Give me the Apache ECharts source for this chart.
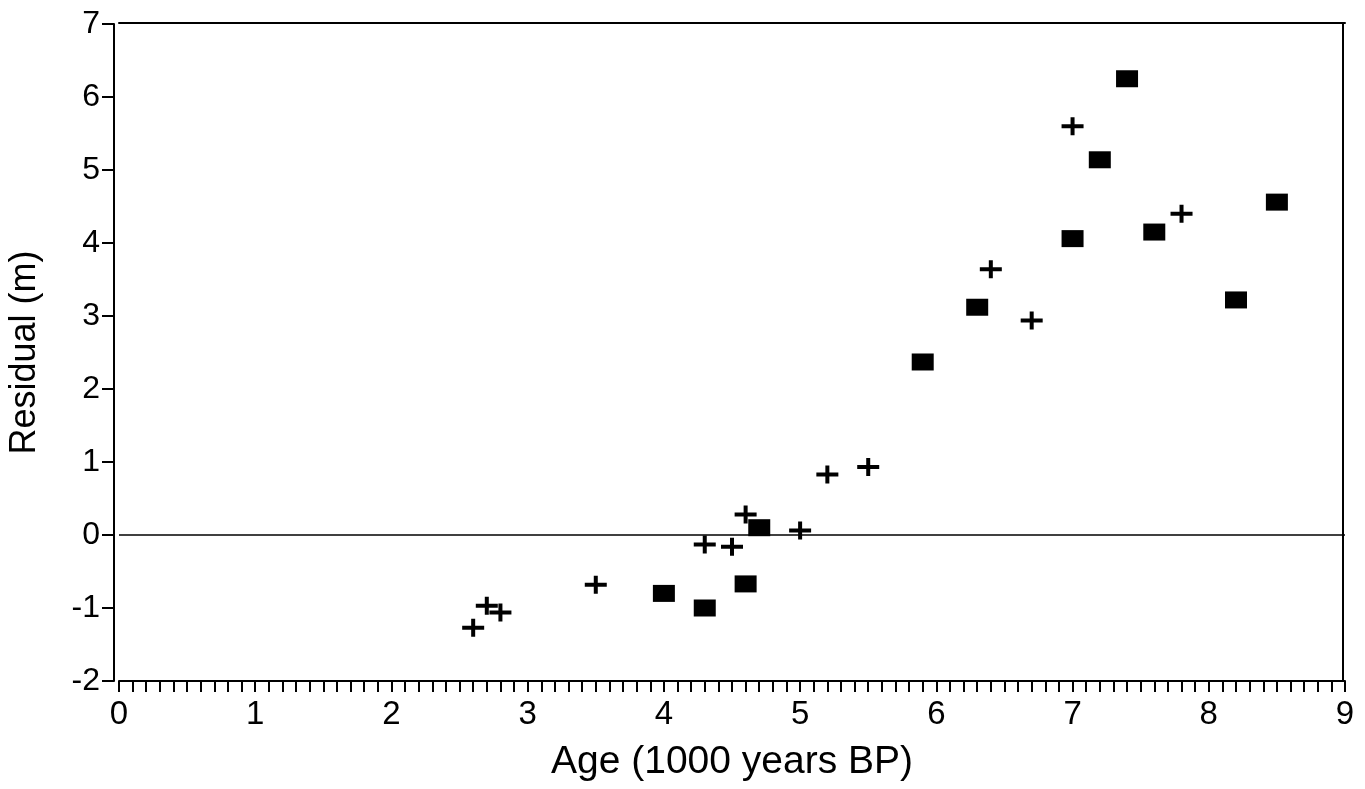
<!DOCTYPE html>
<html>
<head>
<meta charset="utf-8">
<script src="https://cdn.jsdelivr.net/npm/echarts@6/dist/echarts.min.js"></script>
<style>
html,body{margin:0;padding:0;background:#fff;}
#chart{width:1365px;height:789px;}
</style>
</head>
<body>
<div id="chart"></div>
<script>
// Data: Age (1000 years BP) vs residual (m)
const crossAges = [2.6, 2.7, 2.8, 3.5, 4.3, 4.5, 4.6, 5.0, 5.2, 5.5, 6.4, 6.7, 7.0, 7.8];
const crossResiduals = [-1.27, -0.97, -1.06, -0.68, -0.13, -0.16, 0.28, 0.06, 0.83, 0.93, 3.64, 2.94, 5.6, 4.4];
const squareAges = [4.0, 4.3, 4.6, 4.7, 5.9, 6.3, 7.0, 7.2, 7.4, 7.6, 8.2, 8.5];
const squareResiduals = [-0.8, -1.0, -0.67, 0.1, 2.37, 3.12, 4.06, 5.14, 6.25, 4.15, 3.22, 4.56];
const xTicks = [0, 1, 2, 3, 4, 5, 6, 7, 8, 9];
const yTicks = [-2, -1, 0, 1, 2, 3, 4, 5, 6, 7];
const xTitle = 'Age (1000 years BP)';
const yTitle = 'Residual (m)';

const FONT = "'Liberation Sans', Arial, sans-serif";
const chart = echarts.init(document.getElementById('chart'), null, {renderer: 'canvas'});
const plusPath = 'path://M0,7H22V11H0Z M9,0H13V18H9Z';
const xMin = xTicks[0], xMax = xTicks[xTicks.length - 1];
const yMin = yTicks[0], yMax = yTicks[yTicks.length - 1];
const frameAxis = {
  axisLine: {show: true, onZero: false, lineStyle: {color: '#000', width: 2}},
  axisTick: {show: false}, axisLabel: {show: false}, splitLine: {show: false}
};

chart.setOption({
  backgroundColor: '#ffffff',
  animation: false,
  grid: {left: 119, right: 20, top: 24, bottom: 108, show: false, containLabel: false, outerBoundsMode: 'none'},
  xAxis: [{
    type: 'value',
    min: xMin, max: xMax, interval: 1,
    name: xTitle, nameLocation: 'middle', nameGap: 62,
    nameTextStyle: {fontFamily: FONT, fontSize: 39, color: '#000'},
    axisLine: {show: true, onZero: false, lineStyle: {color: '#000', width: 2}},
    axisTick: {show: true, inside: false, length: 11, lineStyle: {color: '#000', width: 2}},
    minorTick: {show: true, splitNumber: 10, length: 11, lineStyle: {color: '#000', width: 2}},
    axisLabel: {fontFamily: FONT, fontSize: 33, color: '#000', margin: 17},
    splitLine: {show: false}
  }, Object.assign({type: 'value', position: 'top', min: xMin, max: xMax, interval: 1, offset: 1}, frameAxis)],
  yAxis: [{
    type: 'value',
    min: yMin, max: yMax, interval: 1, offset: 5,
    name: yTitle, nameLocation: 'middle', nameGap: 71, nameRotate: 90,
    nameTextStyle: {fontFamily: FONT, fontSize: 36, color: '#000'},
    axisLine: {show: true, onZero: false, lineStyle: {color: '#000', width: 2}},
    axisTick: {show: true, inside: false, length: 12, lineStyle: {color: '#000', width: 2}},
    axisLabel: {fontFamily: FONT, fontSize: 32, color: '#000', margin: 14},
    splitLine: {show: false}
  }, Object.assign({type: 'value', position: 'right', min: yMin, max: yMax, interval: 1, offset: -2}, frameAxis)],
  series: [
    {
      type: 'scatter',
      name: 'plus',
      symbol: plusPath,
      symbolSize: [22, 18],
      itemStyle: {color: '#000', opacity: 1},
      data: crossAges.map((a, i) => [a, crossResiduals[i]]),
      markLine: {
        silent: true,
        symbol: ['none', 'none'],
        label: {show: false},
        lineStyle: {color: '#000', width: 1.5, type: 'solid'},
        data: [{yAxis: 0}]
      },
      z: 3
    },
    {
      type: 'scatter',
      name: 'square',
      symbol: 'rect',
      symbolSize: [22, 17],
      itemStyle: {color: '#000', opacity: 1},
      data: squareAges.map((a, i) => [a, squareResiduals[i]]),
      z: 4
    }
  ]
});
</script>
</body>
</html>
